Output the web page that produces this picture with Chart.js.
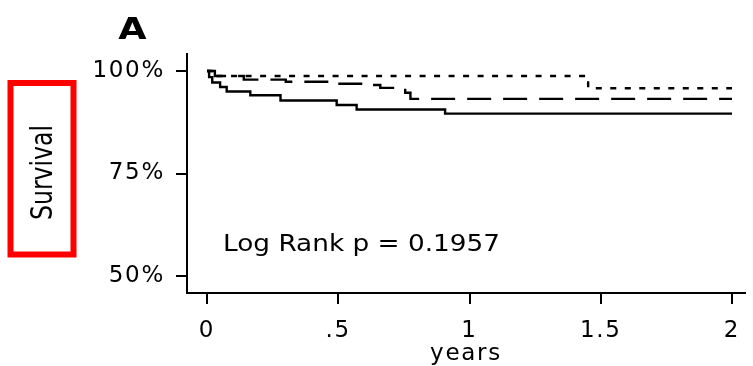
<!DOCTYPE html>
<html>
<head>
<meta charset="utf-8">
<title>Survival A</title>
<script src="https://cdn.jsdelivr.net/npm/chart.js@4.4.1/dist/chart.umd.min.js"></script>
<style>
  html, body { margin: 0; padding: 0; background: #fff; }
  #wrap { width: 753px; height: 366px; position: relative; }
</style>
</head>
<body>
<div id="wrap"><canvas id="kmChart"></canvas></div>
<script>
// courbes de survie (Kaplan-Meier): temps en années, survie en %
var solidTimes = [0, 0.008, 0.02, 0.05, 0.075, 0.165, 0.28, 0.494, 0.57, 0.907, 2.0];
var solidSurv = [100, 98.5, 97.2, 96.1, 95.0, 94.1, 92.8, 91.7, 90.6, 89.6, 89.6];

var dashedTimes = [0, 0.03, 0.14, 0.30, 0.47, 0.60, 0.66, 0.755, 0.775, 2.0];
var dashedSurv = [100, 98.8, 97.9, 97.4, 96.9, 96.6, 95.9, 94.7, 93.2, 93.2];

var dottedTimes = [0, 0.035, 1.452, 2.0];
var dottedSurv = [100, 98.8, 95.8, 95.8];

var xTicks = [0, 0.5, 1, 1.5, 2];
var xTickLabels = ['0', '.5', '1', '1.5', '2'];
var yTicks = [50, 75, 100];
var yTickLabels = ['50%', '75%', '100%'];

var panelLabel = 'A';
var yTitle = 'Survival';
var xTitle = 'years';
var testLabel = 'Log Rank p = 0.1957';

(function () {
  'use strict';

  var FONT = "'DejaVu Sans', sans-serif";
  var INK = '#000000';

  function points(times, surv) {
    return times.map(function (t, i) { return { x: t, y: surv[i] }; });
  }

  function curve(times, surv, dash) {
    return {
      data: points(times, surv),
      borderColor: INK,
      borderWidth: 2.4,
      borderDash: dash,
      pointRadius: 0,
      stepped: true,
      fill: false
    };
  }

  // la figure d'origine est étirée en largeur : on espace les lettres des axes
  var spacing = {
    id: 'spacing',
    beforeDraw: function (chart) { chart.ctx.letterSpacing = '1.7px'; }
  };

  var annotations = {
    id: 'annotations',
    afterDraw: function (chart) {
      var ctx = chart.ctx;
      var xs = chart.scales.x;
      var ys = chart.scales.y;
      ctx.save();
      ctx.fillStyle = INK;
      ctx.letterSpacing = '0px';
      ctx.textBaseline = 'alphabetic';

      ctx.save();
      ctx.translate(132.5, 38.5);
      ctx.scale(1.18, 1);
      ctx.font = 'bold 31px ' + FONT;
      ctx.textAlign = 'center';
      ctx.fillText(panelLabel, 0, 0);
      ctx.restore();

      ctx.strokeStyle = '#ff0000';
      ctx.lineWidth = 6;
      ctx.strokeRect(10.5, 83, 63, 171.5);

      ctx.save();
      ctx.translate(40.5, 172.5);
      ctx.rotate(-Math.PI / 2);
      ctx.scale(1, 1.25);
      ctx.font = '24px ' + FONT;
      ctx.textAlign = 'center';
      ctx.fillText(yTitle, 0, 9, 95);
      ctx.restore();

      ctx.save();
      ctx.translate(xs.getPixelForValue(0.061), ys.getPixelForValue(56.0));
      ctx.scale(1.144, 1);
      ctx.font = '23px ' + FONT;
      ctx.textAlign = 'left';
      ctx.fillText(testLabel, 0, 0);
      ctx.restore();

      ctx.restore();
    }
  };

  var canvas = document.getElementById('kmChart');
  new Chart(canvas, {
    type: 'line',
    data: {
      datasets: [
        curve(dottedTimes, dottedSurv, [6, 8.5]),
        curve(dashedTimes, dashedSurv, [24, 12]),
        curve(solidTimes, solidSurv, [])
      ]
    },
    options: {
      responsive: true,
      maintainAspectRatio: false,
      animation: false,
      layout: { padding: { top: 54, right: 8, left: 0, bottom: 0 } },
      plugins: { legend: { display: false }, tooltip: { enabled: false } },
      scales: {
        x: {
          type: 'linear',
          min: -0.0762,
          max: 2.0495,
          afterBuildTicks: function (scale) {
            scale.ticks = xTicks.map(function (v) { return { value: v }; });
          },
          afterFit: function (scale) { scale.height = 73; },
          ticks: {
            color: INK,
            padding: 13,
            maxRotation: 0,
            autoSkip: false,
            font: { family: FONT, size: 23 },
            callback: function (v) { return xTickLabels[xTicks.indexOf(v)]; }
          },
          grid: { display: true, drawOnChartArea: false, drawTicks: true, tickLength: 11, color: INK, lineWidth: 2 },
          border: { display: true, color: INK, width: 2 },
          title: {
            display: true,
            text: xTitle,
            color: INK,
            padding: { top: 0, bottom: 0 },
            font: { family: FONT, size: 23, lineHeight: 1 }
          }
        },
        y: {
          min: 45.86,
          max: 104.15,
          afterBuildTicks: function (scale) {
            scale.ticks = yTicks.map(function (v) { return { value: v }; });
          },
          afterFit: function (scale) { scale.width = 187; },
          ticks: {
            color: INK,
            padding: 11,
            font: { family: FONT, size: 23 },
            callback: function (v) { return yTickLabels[yTicks.indexOf(v)]; }
          },
          grid: { display: true, drawOnChartArea: false, drawTicks: true, tickLength: 11, color: INK, lineWidth: 2 },
          border: { display: true, color: INK, width: 2 }
        }
      }
    },
    plugins: [spacing, annotations]
  });
})();
</script>
</body>
</html>
